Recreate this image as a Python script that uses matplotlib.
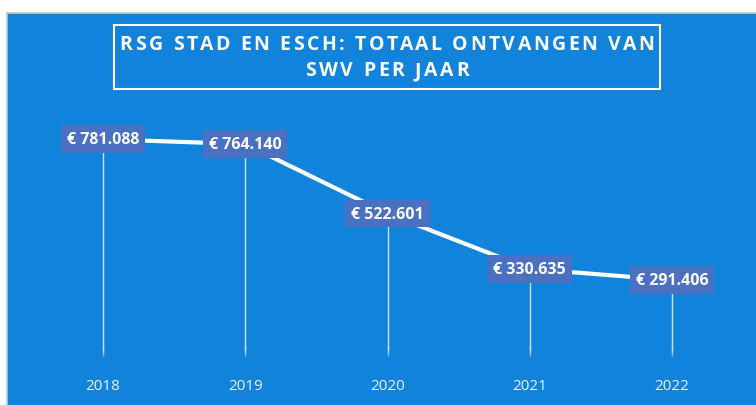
import matplotlib.pyplot as plt
from matplotlib.patches import Rectangle
from matplotlib.font_manager import FontProperties

years = ["2018", "2019", "2020", "2021", "2022"]
totals = [781088, 764140, 522601, 330635, 291406]
labels = ["€ 781.088", "€ 764.140", "€ 522.601", "€ 330.635", "€ 291.406"]
title_lines = ["RSG STAD EN ESCH: TOTAAL ONTVANGEN VAN", "SWV PER JAAR"]

bg = "#1283DA"
box = "#4A70C2"
W, H = 756, 406

fig = plt.figure(figsize=(7.56, 4.06), dpi=100)
fig.patch.set_facecolor("white")

# blue chart area with thin grey border on left/top
fig.add_artist(Rectangle((7 / W, 0), 1, 1 - 14 / H, transform=fig.transFigure,
                         facecolor=bg, edgecolor="none", zorder=0))
fig.add_artist(plt.Line2D([6.5 / W, 6.5 / W], [0, 1 - 14 / H], transform=fig.transFigure,
                          color="#C8C8C8", lw=1.2))
fig.add_artist(plt.Line2D([6.5 / W, 1], [1 - 14 / H, 1 - 14 / H], transform=fig.transFigure,
                          color="#C8C8C8", lw=1.2))

ax = fig.add_axes([32 / W, 1 - 365 / H, 711 / W, 259 / H])
ax.set_facecolor("none")
x = list(range(len(years)))
ax.set_xlim(-0.5, 4.5)
ax.set_ylim(0, 900000)

# drop lines, fading out towards the bottom
for xi, v in zip(x, totals):
    ax.plot([xi, xi], [60000, v], color="#C9E0F5", lw=1, zorder=1)
    steps = 10
    for k in range(steps):
        y0 = 25000 + k * 3500
        ax.plot([xi, xi], [y0, y0 + 3500], color="#C9E0F5", lw=1,
                alpha=(k + 1) / (steps + 1), zorder=1)

ax.plot(x, totals, color="white", lw=3, solid_capstyle="round", zorder=2)

for xi, v, lab in zip(x, totals, labels):
    ax.text(xi, v, lab, ha="center", va="center", color="white", fontsize=11.5,
            fontweight="bold", family="Open Sans", zorder=3,
            bbox=dict(boxstyle="square,pad=0.36", facecolor=box, edgecolor="none"))

ax.set_xticks(x)
ax.set_xticklabels(years, color="#EAF2FB", fontsize=11, family="Open Sans")
ax.tick_params(axis="x", length=0, pad=10)
ax.set_yticks([])
for s in ax.spines.values():
    s.set_visible(False)

# title, letter-spaced by hand: place each character
prop = FontProperties(family="Open Sans", weight="bold", size=14)
renderer = fig.canvas.get_renderer()
spacing = 2.6  # px between letters


def text_w(s):
    if not s:
        return 0.0
    return renderer.get_text_width_height_descent(s, prop, ismath=False)[0]


for line, yc in zip(title_lines, [45, 71]):
    total = text_w(line) + spacing * (len(line) - 1)
    x0 = 387 - total / 2
    for i, ch in enumerate(line):
        if ch == " ":
            continue
        xp = x0 + text_w(line[:i]) + spacing * i
        fig.text(xp / W, 1 - yc / H, ch, ha="left", va="center", color="white",
                 fontproperties=prop)

fig.add_artist(Rectangle((114 / W, 1 - 90 / H), 546 / W, 64 / H,
                         transform=fig.transFigure, facecolor="none",
                         edgecolor="white", lw=1.5))

fig.savefig("out.png", dpi=100)
